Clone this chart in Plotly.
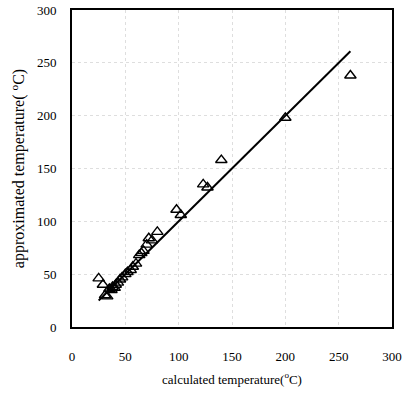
import plotly.graph_objects as go

calculated = [25, 29, 31, 33, 35, 37, 38, 40, 41, 43, 45, 47, 50, 52, 55, 57, 60, 63, 65, 67, 70, 72, 75, 80, 98, 102, 123, 127, 140, 200, 261]
approximated = [46, 40, 30, 29, 36, 35, 38, 37, 40, 42, 45, 47, 50, 52, 54, 57, 60, 68, 70, 72, 78, 84, 82, 90, 111, 106, 135, 132, 158, 198, 238]

fit_slope = 1.0
fit_intercept = 0.0
fit_x = [min(calculated), max(calculated)]
fit_y = [fit_slope * v + fit_intercept for v in fit_x]

tick_vals = [0, 50, 100, 150, 200, 250, 300]

serif = "Liberation Serif, Times New Roman, serif"

fig = go.Figure()
fig.add_trace(go.Scatter(
    x=calculated, y=approximated, mode="markers",
    marker=dict(symbol="triangle-up-open", size=10, color="black", line=dict(width=1.4, color="black")),
    showlegend=False,
))
fig.add_trace(go.Scatter(
    x=fit_x, y=fit_y, mode="lines",
    line=dict(color="black", width=2),
    showlegend=False,
))

axis_common = dict(
    range=[0, 300], tickvals=tick_vals, showline=True, linecolor="black", linewidth=2,
    mirror=True, showgrid=True, gridcolor="#dedede", griddash="dot", gridwidth=1,
    zeroline=False, ticks="", automargin=False,
    tickfont=dict(size=13, family=serif, color="black"),
)

fig.update_layout(
    width=406, height=400,
    margin=dict(l=72, r=14, t=10, b=73),
    plot_bgcolor="white", paper_bgcolor="white",
    xaxis=dict(**axis_common, ticklabelstandoff=16,
               title=dict(text="calculated temperature(<sup>o</sup>C)",
                          font=dict(size=13, family=serif, color="black"), standoff=12)),
    yaxis=dict(**axis_common, ticklabelstandoff=11,
               title=dict(text="approximated temperature( <sup>o</sup>C)",
                          font=dict(size=16, family=serif, color="black"), standoff=8)),
)
fig.write_html("out.html")
